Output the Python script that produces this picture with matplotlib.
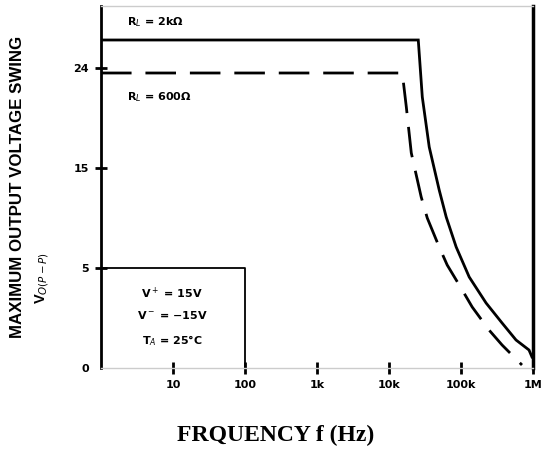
import matplotlib
matplotlib.use("Agg")
import matplotlib.pyplot as plt

# frequency response (Hz, output swing in axis units)
freq_2k = [1, 25500, 29000, 36200, 49800, 62300, 85700, 130000, 223000, 372000, 581000, 880000, 968000]
swing_2k = [32.8, 32.8, 27.1, 22.1, 17.8, 15.1, 12.1, 9.1, 6.5, 4.5, 2.8, 1.8, 1.1]

freq_600 = [1, 15300, 17400, 20400, 28000, 34000, 49800, 64300, 104000, 143000, 245000, 372000, 703000]
swing_600 = [29.5, 29.5, 26.1, 21.5, 17.1, 15.0, 12.1, 10.3, 7.8, 6.1, 3.8, 2.3, 0.3]

x_ticks = [10, 100, 1e3, 1e4, 1e5, 1e6]
x_labels = ["10", "100", "1k", "10k", "100k", "1M"]
y_ticks = [0, 10, 20, 30]
y_labels = ["0", "5", "15", "24"]

fig = plt.figure(figsize=(5.51, 4.5), dpi=100)
ax = fig.add_axes([101 / 551, 82 / 450, 432 / 551, 362 / 450])

ax.plot(freq_2k, swing_2k, color="black", lw=2.0, solid_joinstyle="miter")
ax.plot(freq_600, swing_600, color="black", lw=2.0, dashes=(11, 5))

# conditions box in the lower left corner
ax.plot([1, 100, 100], [10, 10, 0], color="black", lw=1.3)

ax.set_xscale("log")
ax.set_xlim(1, 1e6)
ax.set_ylim(0, 36.2)
ax.set_xticks(x_ticks)
ax.set_xticklabels(x_labels)
ax.set_xticks([], minor=True)
ax.set_yticks(y_ticks)
ax.set_yticklabels(y_labels)
ax.tick_params(direction="inout", length=9, width=2, labelsize=8, pad=4)
ax.yaxis.get_major_ticks()[0].tick1line.set_visible(False)
for lab in ax.get_xticklabels() + ax.get_yticklabels():
    lab.set_fontweight("bold")

for side in ["top", "bottom"]:
    ax.spines[side].set_color("#cccccc")
    ax.spines[side].set_linewidth(1.0)
ax.spines["left"].set_linewidth(2.0)
ax.spines["right"].set_linewidth(2.5)

ax.text(0.06, 0.955, "R$_L$ = 2k\u03a9", transform=ax.transAxes, fontsize=8,
        fontweight="bold", va="center")
ax.text(0.06, 0.748, "R$_L$ = 600\u03a9", transform=ax.transAxes, fontsize=8,
        fontweight="bold", va="center")

ax.text(0.165, 0.207, "V$^+$ = 15V", transform=ax.transAxes, fontsize=8,
        fontweight="bold", ha="center", va="center")
ax.text(0.165, 0.146, "V$^-$ = \u221215V", transform=ax.transAxes, fontsize=8,
        fontweight="bold", ha="center", va="center")
ax.text(0.165, 0.077, "T$_A$ = 25\u00b0C", transform=ax.transAxes, fontsize=8,
        fontweight="bold", ha="center", va="center")

fig.text(18 / 551, 1 - 187 / 450, "MAXIMUM OUTPUT VOLTAGE SWING", rotation=90,
         family="Liberation Sans", fontsize=12.2, fontweight="bold",
         ha="center", va="center")
fig.text(42 / 551, 1 - 278 / 450, "V$_{O(P-P)}$", rotation=90,
         family="Liberation Sans", fontsize=10.5, fontweight="bold",
         ha="center", va="center")

fig.text(276 / 551, 1 - 435 / 450, "FRQUENCY f (Hz)", family="Liberation Serif",
         fontsize=17, fontweight="bold", ha="center", va="center")

fig.savefig("out.png", dpi=100, facecolor="white")
